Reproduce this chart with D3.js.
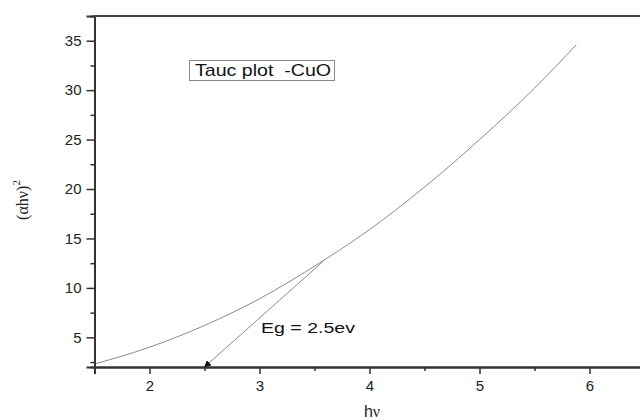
<!DOCTYPE html>
<html>
<head>
<meta charset="utf-8">
<script src="https://cdn.jsdelivr.net/npm/d3@7"></script>
<style>
  body { margin: 0; background: #fff; }
  svg { display: block; overflow: hidden; }
  .tick text { font-family: "Liberation Sans", Arial, sans-serif; font-size: 15px; fill: #222; }
</style>
</head>
<body>
<div id="chart"></div>
<script>
// photon energy hv (eV) and (alpha*hv)^2
const hv = [1.5, 2.0, 2.5, 3.0, 3.5, 4.0, 4.5, 5.0, 5.5, 5.88];
const ahv2 = [2.3, 4.0, 6.2, 8.9, 12.2, 15.9, 20.2, 25.0, 30.2, 34.6];

// extrapolated line down to the x axis
const fitX = [2.5, 3.58];
const fitY = [2.0, 12.7];

const xTicks = [2, 3, 4, 5, 6];
const xMinor = [2.5, 3.5, 4.5, 5.5];
const yTicks = [5, 10, 15, 20, 25, 30, 35];
const yMinor = [2.5, 7.5, 12.5, 17.5, 22.5, 27.5, 32.5];

const W = 640, H = 419;
const margin = { left: 94.5, top: 16, bottom: 52 };

const svg = d3.select("#chart").append("svg")
    .attr("width", W)
    .attr("height", H);

const x = d3.scaleLinear().domain([1.5, 6.5]).range([margin.left, margin.left + 550]);
const y = d3.scaleLinear().domain([2, 37.5]).range([H - margin.bottom, margin.top]);

// curve
const line = d3.line().x(d => x(d[0])).y(d => y(d[1])).curve(d3.curveMonotoneX);
svg.append("path")
    .datum(d3.zip(hv, ahv2))
    .attr("d", line)
    .attr("fill", "none")
    .attr("stroke", "#8a8a8a")
    .attr("stroke-width", 1);

// line with arrow at the x-axis crossing
svg.append("defs").append("marker")
    .attr("id", "arr")
    .attr("viewBox", "0 0 10 10")
    .attr("refX", 9).attr("refY", 5)
    .attr("markerWidth", 7).attr("markerHeight", 7)
    .attr("orient", "auto-start-reverse")
    .attr("markerUnits", "userSpaceOnUse")
    .append("path")
    .attr("d", "M0,0 L10,5 L0,10 z")
    .attr("fill", "#111");

svg.append("path")
    .datum(d3.zip(fitX, fitY))
    .attr("d", d3.line().x(d => x(d[0])).y(d => y(d[1])))
    .attr("fill", "none")
    .attr("stroke", "#8a8a8a")
    .attr("stroke-width", 1)
    .attr("marker-start", "url(#arr)");

// axes
svg.append("g")
    .attr("transform", `translate(0,${y(2)})`)
    .call(d3.axisBottom(x).tickValues(xTicks).tickSize(7).tickPadding(6).tickFormat(d3.format("d")));
svg.append("g")
    .attr("transform", `translate(0,${y(2)})`)
    .call(d3.axisBottom(x).tickValues(xMinor).tickSize(4).tickFormat(""));

svg.append("g")
    .attr("transform", `translate(${margin.left},0)`)
    .call(d3.axisLeft(y).tickValues(yTicks).tickSize(8).tickPadding(5).tickFormat(d3.format("d")));
svg.append("g")
    .attr("transform", `translate(${margin.left},0)`)
    .call(d3.axisLeft(y).tickValues(yMinor).tickSize(4).tickFormat(""));

svg.selectAll(".domain").attr("stroke", "#333").attr("stroke-width", 2);
svg.selectAll(".tick line").attr("stroke", "#333").attr("stroke-width", 1.5);

// top frame line
svg.append("line")
    .attr("x1", margin.left).attr("x2", W)
    .attr("y1", y(37.5)).attr("y2", y(37.5))
    .attr("stroke", "#444").attr("stroke-width", 2);

// axis titles
const xt = svg.append("text")
    .attr("x", 372).attr("y", 417)
    .attr("text-anchor", "middle")
    .attr("font-family", "Liberation Sans, Arial, sans-serif")
    .attr("font-size", 16)
    .attr("fill", "#222");
xt.append("tspan").text("h");
xt.append("tspan").attr("font-family", "Liberation Serif, Times New Roman, serif").text("ν");

const yt = svg.append("text")
    .attr("transform", "translate(28,200) rotate(-90)")
    .attr("text-anchor", "middle")
    .attr("font-family", "Liberation Serif, Times New Roman, serif")
    .attr("font-size", 16)
    .attr("fill", "#222");
yt.append("tspan").text("(αhν)");
yt.append("tspan").attr("dy", -8).attr("font-size", 11).text("2");

// annotation box
svg.append("rect")
    .attr("x", 189.5).attr("y", 60.5)
    .attr("width", 145).attr("height", 20)
    .attr("fill", "#fff")
    .attr("stroke", "#888");
svg.append("text")
    .attr("x", 195).attr("y", 76)
    .attr("font-family", "Liberation Sans, Arial, sans-serif")
    .attr("font-size", 17)
    .attr("fill", "#111")
    .attr("xml:space", "preserve")
    .attr("textLength", 136)
    .attr("lengthAdjust", "spacingAndGlyphs")
    .text("Tauc plot  -CuO");

svg.append("text")
    .attr("x", 261).attr("y", 333)
    .attr("font-family", "Liberation Sans, Arial, sans-serif")
    .attr("font-size", 15.5)
    .attr("fill", "#111")
    .attr("textLength", 94)
    .attr("lengthAdjust", "spacingAndGlyphs")
    .text("Eg = 2.5ev");
</script>
</body>
</html>
